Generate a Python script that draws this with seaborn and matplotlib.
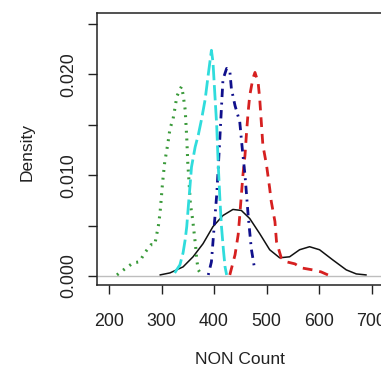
import matplotlib
matplotlib.use("Agg")
import matplotlib.pyplot as plt
import seaborn as sns
import pandas as pd

# ---- data (x = NON count, y = density) ----
green_x = [215, 230, 246, 258, 268, 280, 287, 294, 297, 299, 301, 303, 306, 310, 313,
           316, 322, 326, 329, 334, 338, 341, 345, 348, 350, 353, 355, 359, 362, 365,
           367, 370, 376]
green_y = [0.0001, 0.0007, 0.0013, 0.0014, 0.0023, 0.0031, 0.0031, 0.0050, 0.0062, 0.0074,
           0.0087, 0.0098, 0.0113, 0.0125, 0.0135, 0.0146, 0.0156, 0.0168, 0.0178, 0.0184,
           0.0188, 0.0180, 0.0165, 0.0137, 0.0112, 0.0088, 0.0071, 0.0057, 0.0043, 0.0029,
           0.0016, 0.0006, 0.0001]

cyan_x = [325, 335, 341, 345, 348, 351, 354, 357, 364, 370, 376, 383, 389, 395, 398,
          401, 405, 408, 411, 414, 418, 421, 424]
cyan_y = [0.0003, 0.0011, 0.0023, 0.0036, 0.0049, 0.0069, 0.0088, 0.0108, 0.0128, 0.0140,
          0.0155, 0.0175, 0.0200, 0.0224, 0.0212, 0.0185, 0.0150, 0.0110, 0.0078, 0.0050,
          0.0025, 0.0009, 0.0001]

blue_x = [389, 395, 398, 401, 405, 408, 411, 414, 417, 424, 430, 433, 440, 449, 452,
          455, 459, 465, 471, 477]
blue_y = [0.0001, 0.0014, 0.0034, 0.0054, 0.0080, 0.0107, 0.0136, 0.0166, 0.0195, 0.0206,
          0.0204, 0.0186, 0.0169, 0.0153, 0.0136, 0.0120, 0.0100, 0.0060, 0.0027, 0.0008]

red_x = [430, 440, 446, 449, 455, 459, 462, 465, 468, 474, 478, 484, 487, 493, 500,
         506, 509, 516, 519, 528, 538, 554, 566, 588, 604, 617]
red_y = [0.0001, 0.0021, 0.0041, 0.0060, 0.0100, 0.0120, 0.0143, 0.0163, 0.0179, 0.0196,
         0.0202, 0.0192, 0.0176, 0.0130, 0.0110, 0.0087, 0.0074, 0.0054, 0.0034, 0.0018,
         0.0014, 0.0012, 0.0008, 0.0006, 0.0004, 0.0001]

black_x = [297, 316, 341, 360, 379, 398, 417, 436, 452, 468, 487, 506, 525, 544, 563,
           582, 601, 626, 652, 671, 690]
black_y = [0.0001, 0.0003, 0.0009, 0.0019, 0.0032, 0.0049, 0.0060, 0.0066, 0.0065, 0.0057,
           0.0042, 0.0026, 0.0018, 0.0019, 0.0026, 0.0029, 0.0026, 0.0016, 0.0006, 0.0002,
           0.0001]

x_ticks = [200, 300, 400, 500, 600, 700]
y_ticks = [0.000, 0.005, 0.010, 0.015, 0.020, 0.025]
y_tick_labels = ["0.000", "", "0.010", "", "0.020", ""]

series = [
    ("black", black_x, black_y),
    ("red", red_x, red_y),
    ("green", green_x, green_y),
    ("blue", blue_x, blue_y),
    ("cyan", cyan_x, cyan_y),
]

colors = {"black": "#111111", "red": "#d62020", "green": "#3a9a3a",
          "blue": "#10108c", "cyan": "#30dcdc"}
styles = {"black": "-", "red": (0, (7, 5)), "green": (0, (1.4, 4.2)),
          "blue": (0, (1.4, 4, 6, 4)), "cyan": (0, (11, 3.5))}
widths = {"black": 1.1, "red": 2.0, "green": 2.2, "blue": 2.0, "cyan": 2.0}

sns.set_style("white")
plt.rcParams["font.family"] = ["Liberation Sans", "DejaVu Sans"]
plt.rcParams["lines.scale_dashes"] = False

fig = plt.figure(figsize=(3.81, 3.73), dpi=100)
ax = fig.add_axes([97 / 381, 1 - 284.5 / 373, (382 - 97) / 381, (284.5 - 13) / 373])

ax.axhline(0, color="#bebebe", lw=1.0, zorder=1)

for name, xs, ys in series:
    df = pd.DataFrame({"x": xs, "y": ys})
    sns.lineplot(data=df, x="x", y="y", ax=ax, color=colors[name], sort=False,
                 estimator=None, linestyle=styles[name], lw=widths[name],
                 dash_capstyle="butt", zorder=3)

ax.set_xlim(177, 720)
ax.set_ylim(-0.00085, 0.0261)
ax.set_xticks(x_ticks)
ax.set_xticklabels([str(v) for v in x_ticks])
ax.set_yticks(y_ticks)
ax.set_yticklabels(y_tick_labels, rotation=90, va="center")

for s in ax.spines.values():
    s.set_color("#222222")
    s.set_linewidth(1.1)

ax.tick_params(axis="both", direction="out", length=6.3, width=1.0, color="#222222",
               labelsize=12.8, labelcolor="#222222", left=True, bottom=True)
ax.tick_params(axis="x", pad=14)
ax.tick_params(axis="y", pad=8)

ax.set_xlabel("NON Count", fontsize=12.5, color="#222222")
ax.set_ylabel("Density", fontsize=12.5, color="#222222")
ax.xaxis.set_label_coords(0.5, (284.5 - 359) / 271.5)
ax.xaxis.label.set_va("center")
ax.yaxis.set_label_coords((27 - 97) / 285, (284.5 - 152) / 271.5)
ax.yaxis.label.set_va("center")

fig.savefig("out.png", dpi=100)
